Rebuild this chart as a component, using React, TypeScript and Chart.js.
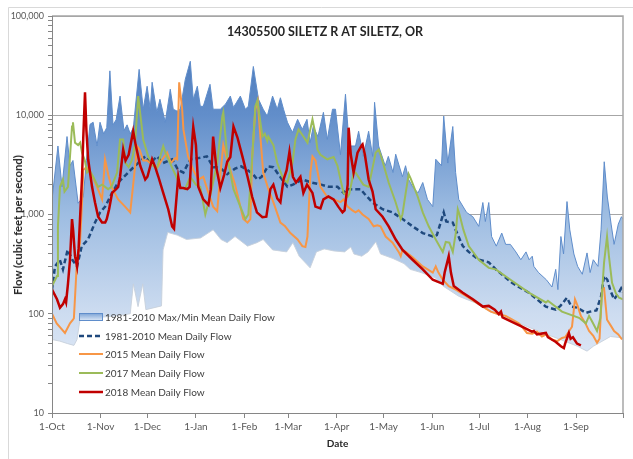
import React, { useEffect, useRef } from "react";
import { Chart, registerables } from "chart.js";

Chart.register(...registerables);

const TITLE = "14305500 SILETZ R AT SILETZ, OR";
const Y_TITLE = "Flow (cubic feet per second)";
const X_TITLE = "Date";
const FONT = 'Lato, "Open Sans", "Noto Sans", sans-serif';

// day of water year (0 = 1-Oct) for each month start
const monthStartDays = [0, 31, 61, 92, 123, 151, 182, 212, 243, 273, 304, 335, 365];
const monthLabels = ["1-Oct", "1-Nov", "1-Dec", "1-Jan", "1-Feb", "1-Mar", "1-Apr", "1-May", "1-Jun", "1-Jul", "1-Aug", "1-Sep", ""];

const yTickValues = [
  10, 20, 30, 40, 50, 60, 70, 80, 90,
  100, 200, 300, 400, 500, 600, 700, 800, 900,
  1000, 2000, 3000, 4000, 5000, 6000, 7000, 8000, 9000,
  10000, 20000, 30000, 40000, 50000, 60000, 70000, 80000, 90000,
  100000,
];
const yMajorTicks = [10, 100, 1000, 10000, 100000];

const legendLabels = [
  "1981-2010 Max/Min Mean Daily Flow",
  "1981-2010 Mean Daily Flow",
  "2015 Mean Daily Flow",
  "2017 Mean Daily Flow",
  "2018 Mean Daily Flow",
];

// [day of water year, cfs]
const maxFlow: [number, number][] = [
  [0, 1400], [3.8, 4900], [6.4, 1900], [9.6, 6100], [11.5, 3100], [13.4, 3500], [16.7, 1300], [20, 1500],
  [22, 3500], [24.3, 8100], [26.3, 8500], [28.8, 4900], [30.7, 8500], [33, 6500], [35, 7500], [37, 28000],
  [39, 8000], [41, 9000], [43.5, 15600], [46, 7000], [48, 8000], [50, 6500], [52, 7500], [55.7, 29000],
  [58.3, 11500], [60.8, 19600], [62.8, 11500], [64, 21500], [67, 10700], [69, 14500], [72.4, 8500],
  [75.6, 18300], [77.5, 11500], [80, 11000], [82, 11500], [85.2, 23000], [88.4, 35000], [90.3, 14500],
  [92.9, 19600], [94.8, 12300], [96.7, 12300], [101, 20500], [103, 11500], [107.6, 11500], [111, 13000],
  [114, 15600], [116, 12000], [118, 13500], [120.4, 15600], [123.6, 11500], [125.5, 12300], [128.7, 31000],
  [132, 14500], [135, 11500], [137.6, 9800], [141, 15600], [144, 11500], [146, 15000], [148, 11500],
  [150.5, 8500], [153.7, 6700], [157, 9100], [160, 7200], [163, 9100], [165, 5300], [167, 7700], [170, 6100],
  [173.5, 10700], [176, 5700], [179.3, 11500], [181.2, 11500], [184.4, 4000], [187.6, 16300], [190, 4900],
  [194, 4900], [196, 6900], [199, 3850], [202.4, 6900], [205, 3850], [206.2, 13500], [208.8, 4900],
  [213, 3100], [215, 3850], [218, 2650], [219.7, 4050], [224, 2400], [226, 3100], [228, 2250], [230.5, 1900],
  [234, 1650], [237, 2100], [240, 1420], [243.4, 1200], [245.3, 3600], [249, 3100], [250.4, 9800],
  [253, 3300], [256.2, 7700], [258, 2650], [260, 1420], [265, 1050], [269, 950], [272.8, 760], [275.4, 1320],
  [277, 850], [279.2, 1320], [281, 600], [284, 480], [287.5, 650], [290, 500], [293, 500], [296.5, 420],
  [299.7, 350], [303, 420], [305, 350], [307, 380], [308, 300], [311, 260], [316, 220], [319.6, 186],
  [322, 280], [323.4, 175], [325.3, 600], [327, 400], [329.2, 1350], [331, 700], [333.6, 400], [336, 300],
  [339, 250], [342, 410], [344, 260], [346, 350], [349, 300], [351, 710], [353, 3400], [355, 1500],
  [357.4, 800], [359.3, 500], [362, 800], [364, 950], [365, 900],
];

const minFlow: [number, number][] = [
  [0, 55], [5, 53], [10, 50], [14, 48], [16, 55], [18, 90], [30, 92], [40, 95], [50, 100], [52, 200],
  [55, 118], [58, 200], [60, 110], [70, 120], [71, 440], [74, 660], [80, 620], [86, 560], [95, 580],
  [103, 700], [108, 560], [112, 520], [117, 600], [125, 480], [131, 520], [135, 560], [141, 440], [150, 420],
  [154, 520], [158, 380], [165, 290], [169, 420], [174, 450], [180, 430], [187, 420], [191, 470], [193, 400],
  [198, 380], [202, 420], [207, 530], [210, 400], [218, 360], [225, 320], [229, 280], [236, 260], [245, 230],
  [250, 190], [260, 150], [270, 130], [280, 105], [293, 87], [304, 74], [314, 64], [325, 55], [336, 47],
  [342, 42], [346, 47], [357, 59], [365, 57],
];

const meanFlow: [number, number][] = [
  [0, 175], [1.9, 300], [5, 350], [7, 280], [10, 440], [13, 350], [16, 300], [19, 480], [23, 560],
  [27.5, 830], [30.7, 1050], [34, 1200], [38.4, 1650], [42.3, 2100], [48.7, 2650], [55, 3300], [59.6, 3850],
  [63, 3300], [67, 3850], [71, 3300], [76.8, 3600], [80.7, 2800], [84, 2650], [88.4, 3600], [93.5, 3700],
  [99, 3850], [103, 3000], [107, 3000], [112, 2550], [117, 2900], [121, 3050], [125, 2800], [128, 2600],
  [131.3, 2250], [134, 2400], [138, 3050], [141.5, 3000], [145, 2500], [150.5, 1900], [154, 2000],
  [160, 2250], [166, 2100], [172, 2000], [177, 1900], [182.5, 1900], [186.4, 1650], [188, 1800],
  [192, 1800], [197.2, 1800], [200, 1600], [204.9, 1320], [211.3, 1130], [217.7, 1050], [224.1, 900],
  [230.5, 760], [237, 650], [243.4, 600], [246, 620], [250.4, 1050], [252, 850], [256.2, 830], [258, 700],
  [262.6, 480], [266.4, 420], [272.8, 350], [279.2, 330], [283.7, 280], [294, 205], [304.8, 163],
  [315.7, 118], [322, 110], [325, 120], [329.2, 145], [332, 118], [336, 115], [341.3, 102], [344, 105],
  [348, 108], [351, 150], [352.9, 240], [355, 220], [357, 170], [359.3, 140], [362, 160], [363.8, 180],
  [365, 165],
];

const flow2015: [number, number][] = [
  [0, 100], [3, 80], [8.3, 64], [11.5, 80], [13.4, 87], [14, 90], [16, 350], [17.9, 520], [19.2, 1320],
  [20, 2800], [22, 3000], [24, 2700], [26, 2400], [28.8, 1900], [32, 1420], [33.9, 3600], [36, 2500],
  [38, 1900], [42.3, 1420], [46.7, 1200], [50, 1050], [51.9, 2000], [54.4, 4900], [56, 4500], [58.3, 3500],
  [60.8, 3500], [64.7, 3100], [67, 2900], [70, 3500], [73.6, 4200], [76, 3300], [78.8, 3700], [80, 3600],
  [81.3, 21500], [83.2, 11500], [84, 7200], [87, 3850], [90.3, 2800], [93.5, 2250], [96.7, 2400],
  [100, 1650], [103, 1200], [105.6, 1080], [107.6, 2500], [109.5, 5000], [112, 3500], [117, 2000],
  [122.3, 900], [125, 830], [126.8, 900], [128, 3850], [130, 11500], [131.5, 14000], [133, 6700],
  [135, 2650], [138.3, 1800], [141.5, 1330], [146, 830], [149, 760], [152.4, 650], [157, 560], [160, 480],
  [162, 470], [163.3, 600], [165.2, 2650], [166.5, 3850], [168.4, 3500], [171.6, 1900], [176, 1500],
  [180, 1420], [184.4, 1330], [186.4, 1420], [189, 1200], [192, 1100], [194, 1050],
  [196, 1100], [198.5, 1000], [202.4, 900], [205.6, 760], [208, 780], [210, 760], [213.3, 600],
  [217.7, 520], [221.6, 420], [222.9, 380], [224, 440], [226.1, 420], [230.5, 370], [237, 300],
  [243.4, 260], [245.3, 300], [247, 260], [249.8, 220], [253.6, 190], [258.1, 175], [266.4, 145],
  [275.4, 118], [280.5, 105], [285.6, 99], [290, 95], [294, 88], [298.4, 80], [301, 72], [303.6, 64],
  [307, 63], [310, 66], [313.2, 59], [316, 62], [319.6, 55], [323, 53], [326, 57], [328, 58], [332.4, 74],
  [334.3, 140], [336, 120], [338.1, 95], [341, 80], [343.3, 67], [346, 60], [348.4, 51], [350, 56],
  [351.6, 175], [352.9, 180], [354.8, 87], [357.4, 75], [359.3, 67], [362, 62], [364.4, 55],
];

const flow2017: [number, number][] = [
  [0, 190], [3.2, 240], [3.8, 760], [5.1, 1900], [7, 2250], [8, 1700], [10.2, 1900], [12.8, 7700],
  [13.4, 8500], [14.7, 5300], [16.7, 5000], [18, 5300], [19.2, 4200], [21, 3500], [22.4, 2650], [24, 2800],
  [26.3, 2400], [29.5, 1900], [32, 2000], [35.9, 1800], [38, 1900], [41.6, 2650], [43.5, 5700],
  [45.5, 5700], [47, 3300], [49, 3000], [51, 3500], [53, 5000], [55.1, 15600], [58.3, 5700], [61.5, 3850],
  [64.7, 3100], [67, 2900], [71.1, 4900], [73, 4000], [77.5, 2800], [79, 2500], [82, 1900], [85, 1800],
  [88.4, 2400], [92, 2000], [94.8, 1900], [98, 1000], [101, 1500], [105.6, 3300], [108.9, 9800],
  [109.5, 10700], [112, 3850], [116, 1800], [120.4, 1200], [123.6, 900], [125.5, 1000], [128, 3850],
  [130, 12300], [131.3, 14000], [134.5, 6100], [136, 6500], [137.6, 5500], [138.3, 6100], [141.5, 5000],
  [144, 3300], [148, 2250], [150.5, 2100], [153.7, 3300], [155.6, 5700], [157.6, 7200], [160.7, 6100],
  [163.3, 5300], [166.5, 9100], [168.4, 6500], [169.7, 4500], [171.6, 4000], [176, 3600], [180, 3800],
  [182.5, 3100], [184.4, 2250], [186.4, 1650], [189, 1510], [190, 1600], [192.8, 2650], [194, 2650],
  [199, 2000], [202.4, 1900], [205, 3000], [206.9, 4200], [208.8, 4500], [210.5, 3800], [215.2, 2100],
  [219.7, 1320], [222.9, 900], [224, 1000], [226.1, 1650], [228, 2550], [229.3, 2300], [233.8, 1510],
  [237, 1050], [240.8, 760], [245.3, 560], [249.8, 420], [251.7, 530], [254, 520], [256.2, 420],
  [258.1, 650], [259.4, 1130], [260.5, 1000], [263, 700], [266.4, 480], [272.8, 350], [279.2, 290],
  [283.7, 280], [294, 215], [304.8, 163], [315.7, 130], [317, 135], [326, 105], [336.9, 91], [341.3, 80],
  [343.3, 95], [345, 85], [348.4, 67], [350.5, 90], [352.9, 330], [354.8, 600], [356, 380], [358, 205],
  [360.5, 160], [362.5, 145], [365, 140],
];

const flow2018: [number, number][] = [
  [0, 175], [3.2, 140], [5.1, 115], [7, 125], [8.3, 140], [9, 130], [10.2, 200], [11.5, 350], [12.8, 900],
  [13.5, 700], [14.7, 380], [16, 300], [17, 450], [19.2, 2400], [20, 6000], [21.1, 17000], [22, 7000],
  [23.1, 3600], [25.6, 1900], [27.5, 1320], [29.5, 950], [32, 830], [34, 830], [35, 900], [36.5, 1130],
  [38.4, 1650], [41, 1800], [42.3, 1900], [43.5, 2400], [45.5, 4500], [47, 3500], [49, 4000], [51.9, 6900],
  [53.5, 5000], [56.4, 3100], [59.6, 2250], [61, 2400], [64, 3600], [66, 3000], [68, 2400], [71.1, 1650],
  [74.3, 1130], [76.8, 760], [78, 720], [78.8, 1050], [80.7, 2400], [82, 1850], [84, 1850], [86.5, 1800],
  [88, 1900], [89.7, 5700], [90.3, 7600], [92, 5000], [93.5, 1900], [96.7, 1420], [100, 1250],
  [101.5, 1800], [103, 6100], [105, 3000], [107.6, 1850], [110, 2500], [112, 3400], [114, 3800],
  [116, 7700], [118.5, 6000], [121.7, 3850], [125, 2400], [128, 1500], [131, 1050], [134.5, 940],
  [137, 950], [139.6, 1800], [141.5, 2000], [144, 1450], [146, 1330], [148, 2250], [150, 2800],
  [151.8, 4300], [154, 2400], [156, 2100], [158.8, 2400], [160.7, 1650], [163, 2000], [166.5, 1650],
  [168.4, 1200], [171.6, 1150], [173.5, 1420], [176.7, 1520], [180, 1420], [183, 1200], [185.7, 1050],
  [187, 1100], [189, 2000], [189.6, 7500], [191, 4000], [192.8, 2650], [195.3, 4200], [198, 5000],
  [198.5, 5100], [200, 4000], [202.4, 2250], [204.9, 1700], [206.9, 1130], [211.3, 950], [215.2, 760],
  [219.7, 560], [224.1, 440], [230.5, 350], [237, 280], [243.4, 220], [249.8, 200], [251, 260],
  [253.6, 380], [255, 260], [256.8, 190], [262.6, 163], [269, 140], [275.4, 118], [279.2, 120], [283, 110],
  [285.6, 99], [287, 105], [288, 92], [294, 83], [300.4, 74], [306.8, 66], [308, 67], [310, 62],
  [315.7, 64], [317, 58], [322.1, 52], [325.3, 47], [327.2, 45], [328, 50], [330.4, 64], [331.5, 56],
  [333, 58], [335.6, 50], [338.1, 48],
];

const COLORS = {
  maxLine: "#5f8dcb",
  minLine: "rgba(200,208,220,0.9)",
  mean: "#1f497d",
  y2015: "#f79646",
  y2017: "#9bbb59",
  y2018: "#c00000",
  frame: "#a6a6a6",
  axis: "#868686",
  tickText: "#595959",
  text: "#262626",
};

const toPoints = (arr: [number, number][]) => arr.map(([x, y]) => ({ x, y }));

function bandGradient(ctx: CanvasRenderingContext2D, top: number, bottom: number) {
  const g = ctx.createLinearGradient(0, top, 0, bottom);
  g.addColorStop(0, "rgb(66,112,178)");
  g.addColorStop(0.25, "rgb(98,142,202)");
  g.addColorStop(0.5, "rgb(158,189,226)");
  g.addColorStop(0.75, "rgb(205,220,240)");
  g.addColorStop(1, "rgb(236,242,251)");
  return g;
}

const decorPlugin = {
  id: "decor",
  beforeDraw(chart: any) {
    const { ctx, width, height } = chart;
    ctx.save();
    ctx.fillStyle = "#ffffff";
    ctx.fillRect(0, 0, width, height);
    ctx.strokeStyle = "#d9d9d9";
    ctx.lineWidth = 1;
    ctx.beginPath();
    ctx.moveTo(8.5, height + 5);
    ctx.lineTo(8.5, 7.5);
    ctx.lineTo(width + 5, 7.5);
    ctx.stroke();
    ctx.restore();
  },
  afterDatasetsDraw(chart: any) {
    const { ctx, chartArea } = chart;
    const { left, right, top, bottom } = chartArea;
    ctx.save();
    // plot frame
    ctx.strokeStyle = COLORS.frame;
    ctx.lineWidth = 1.5;
    ctx.beginPath();
    ctx.moveTo(left, top);
    ctx.lineTo(right, top);
    ctx.lineTo(right, bottom);
    ctx.stroke();
    // axes
    ctx.strokeStyle = COLORS.axis;
    ctx.lineWidth = 1;
    ctx.beginPath();
    ctx.moveTo(left + 0.5, top);
    ctx.lineTo(left + 0.5, bottom + 0.5);
    ctx.lineTo(right, bottom + 0.5);
    ctx.stroke();

    // title
    ctx.fillStyle = COLORS.text;
    ctx.font = `bold 12.5px ${FONT}`;
    ctx.textAlign = "center";
    ctx.textBaseline = "middle";
    ctx.fillText(TITLE, 325, 32);

    // x axis title
    ctx.font = `bold 10px ${FONT}`;
    ctx.fillText(X_TITLE, (left + right) / 2, 444);

    // legend
    const ys = [317, 336, 354, 373, 392];
    const x0 = 79;
    const x1 = 103;
    ctx.textAlign = "left";
    ctx.font = `10px ${FONT}`;
    legendLabels.forEach((label, i) => {
      const y = ys[i];
      ctx.save();
      if (i === 0) {
        const g = ctx.createLinearGradient(0, y - 4, 0, y + 4);
        g.addColorStop(0, "rgb(120,160,212)");
        g.addColorStop(1, "rgb(225,235,248)");
        ctx.fillStyle = g;
        ctx.fillRect(x0, y - 4, x1 - x0, 8);
        ctx.strokeStyle = COLORS.maxLine;
        ctx.lineWidth = 1;
        ctx.strokeRect(x0 + 0.5, y - 3.5, x1 - x0 - 1, 7);
      } else {
        const colors = [COLORS.mean, COLORS.y2015, COLORS.y2017, COLORS.y2018];
        ctx.strokeStyle = colors[i - 1];
        ctx.lineWidth = i === 1 ? 2.5 : i === 4 ? 2.5 : 2;
        if (i === 1) ctx.setLineDash([5, 3]);
        ctx.beginPath();
        ctx.moveTo(x0, y);
        ctx.lineTo(x1, y);
        ctx.stroke();
      }
      ctx.restore();
      ctx.fillStyle = "#404040";
      ctx.fillText(label, 105, y + 0.5);
    });
    ctx.restore();
  },
};

export default function App() {
  const canvasRef = useRef<HTMLCanvasElement | null>(null);

  useEffect(() => {
    if (!canvasRef.current) return;
    const chart = new Chart(canvasRef.current, {
      type: "line",
      data: {
        datasets: [
          {
            label: legendLabels[0] + " max",
            data: toPoints(maxFlow),
            borderColor: COLORS.maxLine,
            borderWidth: 1,
            backgroundColor: (c: any) => {
              const area = c.chart.chartArea;
              if (!area) return "rgb(160,190,225)";
              return bandGradient(c.chart.ctx, area.top, area.bottom);
            },
            fill: "start",
            pointRadius: 0,
            tension: 0,
            order: 6,
          },
          {
            label: legendLabels[0] + " min",
            data: toPoints(minFlow),
            borderColor: COLORS.minLine,
            borderWidth: 1,
            backgroundColor: "#ffffff",
            fill: "start",
            pointRadius: 0,
            tension: 0,
            order: 5,
          },
          {
            label: legendLabels[1],
            data: toPoints(meanFlow),
            borderColor: COLORS.mean,
            borderWidth: 2.5,
            borderDash: [5, 3],
            fill: false,
            pointRadius: 0,
            tension: 0,
            order: 4,
          },
          {
            label: legendLabels[2],
            data: toPoints(flow2015),
            borderColor: COLORS.y2015,
            borderWidth: 2,
            fill: false,
            pointRadius: 0,
            tension: 0,
            order: 3,
          },
          {
            label: legendLabels[3],
            data: toPoints(flow2017),
            borderColor: COLORS.y2017,
            borderWidth: 2,
            fill: false,
            pointRadius: 0,
            tension: 0,
            order: 2,
          },
          {
            label: legendLabels[4],
            data: toPoints(flow2018),
            borderColor: COLORS.y2018,
            borderWidth: 2.5,
            fill: false,
            pointRadius: 0,
            tension: 0,
            order: 1,
          },
        ],
      },
      options: {
        animation: false,
        responsive: false,
        devicePixelRatio: 1,
        layout: { padding: { left: 8, right: 10, top: 16, bottom: 16 } },
        plugins: {
          legend: { display: false },
          tooltip: { enabled: false },
          title: { display: false },
        },
        scales: {
          x: {
            type: "linear",
            min: 0,
            max: 365,
            afterBuildTicks: (s: any) => {
              s.ticks = monthStartDays.map((v) => ({ value: v }));
            },
            afterFit: (s: any) => {
              s.height = 30;
            },
            ticks: {
              autoSkip: false,
              maxRotation: 0,
              padding: 3,
              color: COLORS.tickText,
              font: { family: FONT, size: 10 },
              callback: (v: any) => {
                const i = monthStartDays.indexOf(Number(v));
                return i >= 0 ? monthLabels[i] : "";
              },
            },
            grid: { drawOnChartArea: false, tickLength: 5, color: COLORS.axis },
            border: { color: COLORS.axis },
          },
          y: {
            type: "logarithmic",
            min: 10,
            max: 100000,
            afterBuildTicks: (s: any) => {
              s.ticks = yTickValues.map((v) => ({ value: v, major: yMajorTicks.includes(v) }));
            },
            afterFit: (s: any) => {
              s.width = 44;
            },
            ticks: {
              autoSkip: false,
              padding: 4,
              color: COLORS.tickText,
              font: { family: FONT, size: 9 },
              callback: (v: any) =>
                yMajorTicks.includes(Number(v)) ? Number(v).toLocaleString("en-US") : "",
            },
            grid: {
              color: (c: any) =>
                c.tick && yMajorTicks.includes(c.tick.value) ? COLORS.frame : "rgba(0,0,0,0)",
              tickColor: COLORS.axis,
              tickLength: 4,
              lineWidth: 1,
            },
            border: { color: COLORS.axis },
          },
        },
      },
      plugins: [decorPlugin],
    });
    return () => chart.destroy();
  }, []);

  return (
    <div style={{ position: "fixed", left: 0, top: 0, width: 633, height: 459, background: "#fff" }}>
      <canvas ref={canvasRef} width={633} height={459} style={{ display: "block" }} />
      <div
        style={{
          position: "absolute",
          left: 17.5,
          top: 225,
          transform: "translate(-50%, -50%) rotate(-90deg)",
          whiteSpace: "nowrap",
          font: `bold 11.3px ${FONT}`,
          color: COLORS.text,
          lineHeight: "12px",
        }}
      >
        {Y_TITLE}
      </div>
    </div>
  );
}
